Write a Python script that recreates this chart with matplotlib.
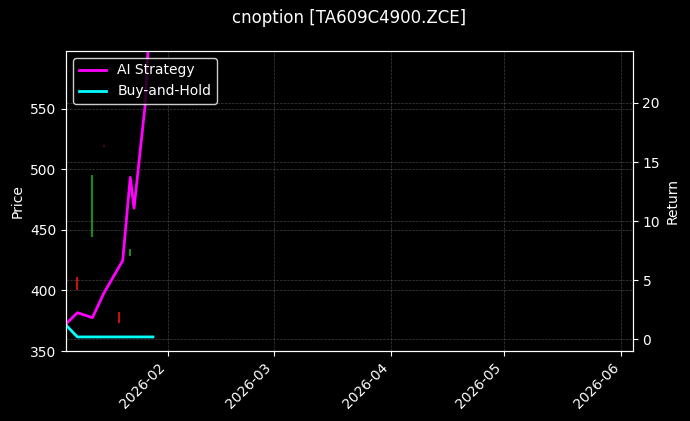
"""Option backtest chart: price candles with strategy returns on a twin axis."""

import matplotlib
matplotlib.use("Agg")
import matplotlib.dates as mdates
import numpy as np
import pandas as pd
from matplotlib import pyplot as plt

# candle wicks (price axis)
candle_dates = pd.to_datetime(["2026-01-08", "2026-01-12", "2026-01-15", "2026-01-19", "2026-01-22"])
candle_low = [400.3, 444.3, 518.5, 372.9, 428.6]
candle_high = [411.3, 495.2, 520.0, 382.0, 434.2]
candle_up = [False, True, False, False, True]

# returns (right axis)
ai_dates = pd.to_datetime([
    "2026-01-05", "2026-01-08", "2026-01-12", "2026-01-15", "2026-01-20",
    "2026-01-22", "2026-01-23", "2026-01-26", "2026-01-28",
])
ai_return = [1.3, 2.25, 1.83, 3.9, 6.66, 13.7, 11.1, 20.0, 33.0]
bh_dates = pd.to_datetime(["2026-01-05", "2026-01-08", "2026-01-28"])
bh_return = [1.2, 0.2, 0.2]

plt.style.use("dark_background")
fig = plt.figure(figsize=(6.9, 4.21), dpi=100)
ax = fig.add_axes([0.0957, 0.166, 0.8213, 0.713])
ax2 = ax.twinx()

for d, lo, hi, up in zip(candle_dates, candle_low, candle_high, candle_up):
    color = "#1a9a1a" if up else "#e01010"
    alpha = 0.9 if hi - lo > 3 else 0.35
    ax.vlines(d, lo, hi, color=color, linewidth=1.5, alpha=alpha)

ax2.plot(ai_dates, ai_return, color="#ff00ff", linewidth=2, label="AI Strategy")
ax2.plot(bh_dates, bh_return, color="#00ffff", linewidth=2, label="Buy-and-Hold")

ax.set_ylim(350, 597.5)
ax2.set_ylim(-1.0, 24.4)
ax.set_xlim(pd.Timestamp("2026-01-05"), pd.Timestamp("2026-06-04"))
ax.set_yticks([350, 400, 450, 500, 550])
ax2.set_yticks([0, 5, 10, 15, 20])

ax.xaxis.set_major_locator(mdates.MonthLocator())
ax.xaxis.set_major_formatter(mdates.DateFormatter("%Y-%m"))
for label in ax.get_xticklabels():
    label.set_rotation(45)
    label.set_ha("right")

ax.grid(True, linestyle="--", linewidth=0.5, color="gray", alpha=0.5)
ax2.grid(True, linestyle="--", linewidth=0.5, color="gray", alpha=0.5)

ax.set_ylabel("Price")
ax2.set_ylabel("Return")
ax.set_title("cnoption [TA609C4900.ZCE]", fontsize=12, pad=20)

legend = ax2.legend(loc="upper left", facecolor="black", edgecolor="white", framealpha=0.8)

fig.savefig("out.png", dpi=100, facecolor="black")
